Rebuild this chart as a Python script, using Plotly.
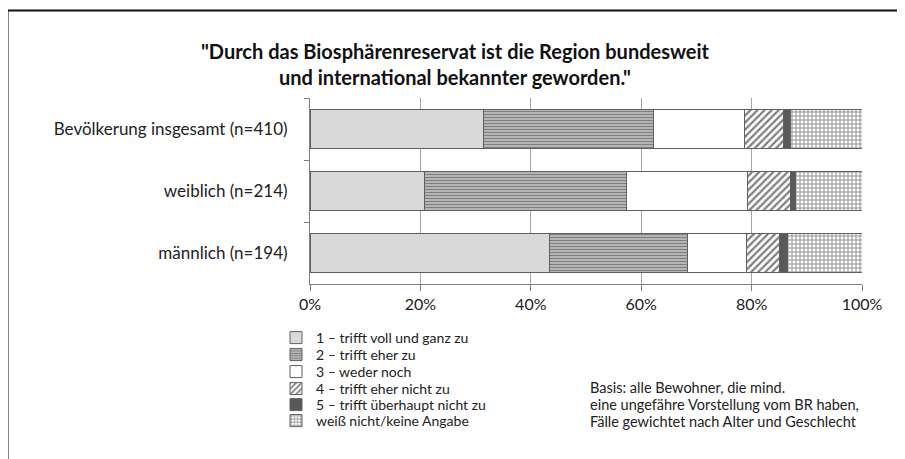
import plotly.graph_objects as go

categories = ["Bevölkerung insgesamt (n=410)", "weiblich (n=214)", "männlich (n=194)"]
series_names = [
    "1 – trifft voll und ganz zu",
    "2 – trifft eher zu",
    "3 – weder noch",
    "4 – trifft eher nicht zu",
    "5 – trifft überhaupt nicht zu",
    "weiß nicht/keine Angabe",
]
v1 = [31.5, 20.7, 43.4]
v2 = [30.8, 36.7, 25.0]
v3 = [16.4, 21.8, 10.6]
v4 = [7.0, 7.9, 6.1]
v5 = [1.4, 0.9, 1.4]
v6 = [12.9, 12.0, 13.5]
series_values = [v1, v2, v3, v4, v5, v6]
x_tick_vals = [0, 20, 40, 60, 80, 100]
x_tick_text = ["0%", "20%", "40%", "60%", "80%", "100%"]

title_text = '"Durch das Biosphärenreservat ist die Region bundesweit<br>und international bekannter geworden."'
note_lines = [
    "Basis: alle Bewohner, die mind.",
    "eine ungefähre Vorstellung vom BR haben,",
    "Fälle gewichtet nach Alter und Geschlecht",
]

styles = [
    dict(color="#d9d9d9"),
    dict(color="#ffffff", pattern=dict(shape="-", size=3, solidity=0.72, fgcolor="#000000", bgcolor="#ffffff")),
    dict(color="#ffffff"),
    dict(color="#ffffff", pattern=dict(shape="/", size=5, solidity=0.45, fgcolor="#000000", bgcolor="#ffffff")),
    dict(color="#595959"),
    dict(color="#ffffff", pattern=dict(shape="+", size=4, solidity=0.45, fgcolor="#222222", bgcolor="#ffffff")),
]

FONT = "Lato, 'Open Sans', sans-serif"
W, H = 905, 459
OFF = 8  # page offset of the figure (body margin)
L, R, T, B = 310 - OFF, 862 - OFF, 98 - OFF, 284 - OFF

def px_x(px):
    return (px - OFF - L) / (R - L)

def px_y(py):
    return (B - (py - OFF)) / (B - T)

fig = go.Figure()
legend_rows = [338, 355, 372, 389, 405, 421]
for i, (name, vals, st) in enumerate(zip(series_names, series_values, styles)):
    lg = "legend" if i == 0 else f"legend{i+1}"
    fig.add_trace(go.Bar(
        y=categories, x=vals, name=name, orientation="h",
        marker=dict(**st, line=dict(color="#606060", width=1)),
        legend=lg,
        hoverinfo="x+name",
    ))

legends = {}
for i, row in enumerate(legend_rows):
    key = "legend" if i == 0 else f"legend{i+1}"
    legends[key] = dict(
        x=px_x(276), y=px_y(row), xref="paper", yref="paper",
        xanchor="left", yanchor="middle",
        bgcolor="rgba(0,0,0,0)", borderwidth=0,
        font=dict(family=FONT, size=14, color="#222222"),
        itemwidth=30, tracegroupgap=0,
    )

fig.update_layout(
    width=W, height=H,
    margin=dict(l=L, r=W - R, t=T, b=H - B, pad=0),
    barmode="stack", bargap=0.37,
    paper_bgcolor="white", plot_bgcolor="white",
    showlegend=True,
    font=dict(family=FONT, color="#222222"),
    title=dict(text=title_text, xref="container", x=(455 - OFF) / W, xanchor="center",
               yref="container", y=1 - (59 - OFF) / H, yanchor="middle",
               font=dict(family=FONT, size=20, color="#111111", weight="bold")),
    xaxis=dict(
        range=[0, 100], tickvals=x_tick_vals, ticktext=x_tick_text,
        showgrid=True, gridcolor="#a6a6a6", gridwidth=1,
        showline=True, linecolor="#7f7f7f", linewidth=1,
        ticks="outside", ticklen=6, tickcolor="#7f7f7f",
        tickfont=dict(family=FONT, size=16, color="#222222"),
        zeroline=False, fixedrange=True,
    ),
    yaxis=dict(
        autorange="reversed", type="category",
        showline=True, linecolor="#7f7f7f", linewidth=1,
        ticks="outside", ticklen=5, tickcolor="#7f7f7f", tickson="boundaries",
        tickfont=dict(family=FONT, size=17, color="#222222"),
        ticklabelstandoff=18,
        showgrid=False, fixedrange=True,
    ),
    **legends,
)

note_rows = [387, 404, 421]
for line, row in zip(note_lines, note_rows):
    fig.add_annotation(
        text=line, xref="paper", yref="paper", x=px_x(588), y=px_y(row),
        xanchor="left", yanchor="middle", align="left", showarrow=False,
        font=dict(family=FONT, size=14.5, color="#222222"),
    )

# outer frame
fig.add_shape(type="rect", xref="paper", yref="paper",
              x0=px_x(7.5), x1=px_x(920), y0=px_y(10.5), y1=px_y(480),
              line=dict(color="#111111", width=2), fillcolor="rgba(0,0,0,0)", layer="above")

fig.write_html("out.html")
